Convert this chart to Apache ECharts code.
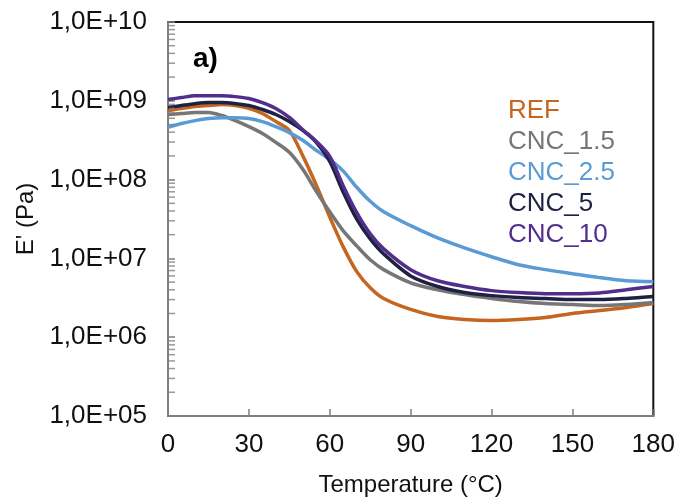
<!DOCTYPE html>
<html>
<head>
<meta charset="utf-8">
<script src="https://cdn.jsdelivr.net/npm/echarts@6/dist/echarts.min.js"></script>
<style>
  html, body { margin: 0; padding: 0; background: #fff; }
  #chart { width: 678px; height: 502px; }
</style>
</head>
<body>
<div id="chart"></div>
<script>
// temperature (°C)
var temps = [0, 5, 10, 15, 20, 25, 30, 35, 40, 45, 50, 55, 60, 65, 70, 75, 80, 90, 100, 110, 120, 130, 140, 150, 160, 170, 180]

// storage modulus E' (Pa)
var ref = [7.5e8, 8.0e8, 8.45e8, 8.7e8, 8.95e8, 8.7e8, 8.0e8, 6.9e8, 5.45e8, 4.2e8, 2.0e8, 8.5e7, 3.35e7, 1.4e7, 6.8e6, 4.25e6, 3.1e6, 2.25e6, 1.83e6, 1.68e6, 1.63e6, 1.68e6, 1.78e6, 2.0e6, 2.18e6, 2.38e6, 2.67e6]
var cnc15 = [6.7e8, 6.9e8, 7.1e8, 7.1e8, 6.5e8, 5.6e8, 4.7e8, 3.85e8, 2.97e8, 2.22e8, 1.35e8, 7.1e7, 3.9e7, 2.23e7, 1.44e7, 9.6e6, 7.2e6, 4.9e6, 4.0e6, 3.47e6, 3.1e6, 2.83e6, 2.67e6, 2.6e6, 2.52e6, 2.6e6, 2.75e6]
var cnc25 = [4.6e8, 5.15e8, 5.6e8, 5.95e8, 6.1e8, 6.1e8, 5.95e8, 5.45e8, 4.7e8, 3.95e8, 3.15e8, 2.35e8, 1.8e8, 1.28e8, 8.0e7, 5.3e7, 3.9e7, 2.6e7, 1.82e7, 1.36e7, 1.05e7, 8.3e6, 7.2e6, 6.4e6, 5.7e6, 5.2e6, 5.05e6]
var cnc5 = [8.2e8, 8.7e8, 9.2e8, 9.5e8, 9.5e8, 9.2e8, 8.7e8, 7.75e8, 6.7e8, 5.45e8, 4.2e8, 2.97e8, 1.7e8, 6.9e7, 3.15e7, 1.77e7, 1.14e7, 6.0e6, 4.4e6, 3.7e6, 3.37e6, 3.18e6, 3.1e6, 3.0e6, 3.0e6, 3.1e6, 3.28e6]
var cnc10 = [1.04e9, 1.1e9, 1.16e9, 1.16e9, 1.16e9, 1.13e9, 1.07e9, 9.5e8, 8.0e8, 6.15e8, 4.3e8, 3.05e8, 1.97e8, 8.3e7, 3.8e7, 2.05e7, 1.32e7, 7.2e6, 5.2e6, 4.4e6, 3.9e6, 3.68e6, 3.57e6, 3.57e6, 3.65e6, 4.0e6, 4.4e6]

var names = ['REF', 'CNC_1.5', 'CNC_2.5', 'CNC_5', 'CNC_10']
var colors = ['#c5651f', '#767676', '#5b9bd5', '#1d2142', '#512d8c']
var yTickLabels = ['1,0E+05', '1,0E+06', '1,0E+07', '1,0E+08', '1,0E+09', '1,0E+10']
var decades = [1e5, 1e6, 1e7, 1e8, 1e9]
var minorSteps = [2, 3, 4, 5, 6, 7, 8, 9]

function pairs(ys) {
  return temps.map(function(t, i) { return [t, ys[i]] })
}

// log-spaced minor ticks on the y axis
var minorTicks = []
decades.forEach(function(d) {
  minorSteps.forEach(function(m) { minorTicks.push([0, d * m]) })
})

var font = 'Liberation Sans, Arial, sans-serif'
var chart = echarts.init(document.getElementById('chart'))

var series = [ref, cnc15, cnc25, cnc5, cnc10].map(function(ys, i) {
  return {
    name: names[i],
    type: 'line',
    data: pairs(ys),
    smooth: 0.3,
    showSymbol: false,
    lineStyle: { color: colors[i], width: 3.5 },
    itemStyle: { color: colors[i] },
    z: 3
  }
})

// small marks drawn just right of the left axis
series.push({
  type: 'scatter',
  silent: true,
  clip: false,
  data: minorTicks,
  symbol: 'rect',
  symbolSize: [6, 1.5],
  symbolOffset: [4, 0],
  itemStyle: { color: '#808080' },
  z: 5
})

chart.setOption({
  animation: false,
  title: {
    text: 'a)',
    left: 188,
    top: 40,
    textStyle: { fontFamily: font, fontSize: 28, fontWeight: 'bold', color: '#000' }
  },
  legend: {
    data: names.map(function(n, i) {
      return { name: n, icon: 'none', textStyle: { color: colors[i] } }
    }),
    orient: 'vertical',
    left: 498,
    top: 93,
    itemWidth: 0,
    itemHeight: 26,
    itemGap: 5,
    selectedMode: false,
    textStyle: { fontFamily: font, fontSize: 26 }
  },
  grid: {
    left: 168,
    right: 24,
    top: 22,
    bottom: 72,
    show: true,
    borderColor: '#111',
    borderWidth: 2
  },
  xAxis: {
    type: 'value',
    min: 0,
    max: 180,
    interval: 30,
    name: 'Temperature (°C)',
    nameLocation: 'middle',
    nameGap: 57,
    nameTextStyle: { fontFamily: font, fontSize: 24, color: '#111' },
    axisLine: { lineStyle: { color: '#7f7f7f', width: 2 } },
    axisTick: { inside: true, length: 7, lineStyle: { color: '#7f7f7f', width: 1.5 } },
    axisLabel: { margin: 16, fontFamily: font, fontSize: 26, color: '#111' },
    splitLine: { show: false }
  },
  yAxis: {
    type: 'log',
    logBase: 10,
    min: 1e5,
    max: 1e10,
    name: "E' (Pa)",
    nameLocation: 'middle',
    nameGap: 128,
    nameTextStyle: { fontFamily: font, fontSize: 24, color: '#111' },
    axisLine: { show: true, lineStyle: { color: '#7f7f7f', width: 2 } },
    axisTick: { inside: true, length: 7, lineStyle: { color: '#7f7f7f', width: 1.5 } },
    axisLabel: {
      margin: 21,
      fontFamily: font,
      fontSize: 26,
      color: '#111',
      formatter: function(v) {
        var e = Math.round(Math.log10(v))
        return yTickLabels[e - 5]
      }
    },
    splitLine: { show: false }
  },
  series: series
})
</script>
</body>
</html>
